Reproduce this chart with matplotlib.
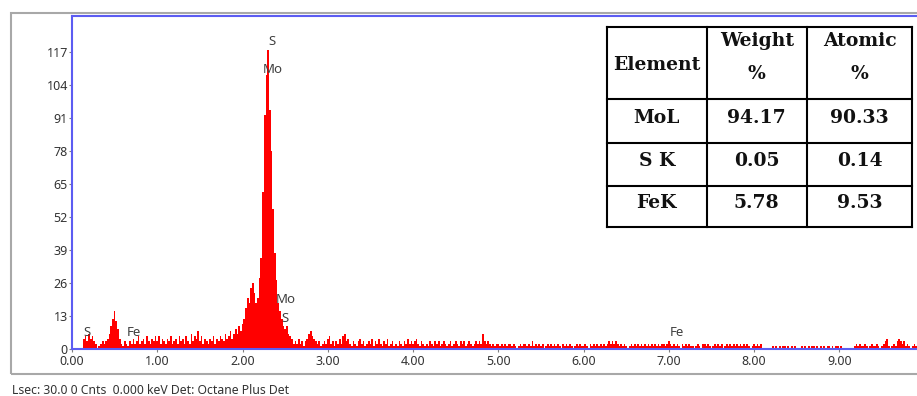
import numpy as np
import matplotlib.pyplot as plt
from matplotlib.patches import Rectangle

# EDS spectrum: counts per 0.02 keV channel starting at 0.00 keV
channel_kev = 0.02
counts = [
    # 0.00 - 0.98 keV
    0, 0, 0, 0, 0, 0, 0, 4, 5, 3, 6, 4, 5, 3, 2, 0, 1, 2, 3, 2, 3, 4, 6, 9, 12,
    15, 11, 8, 4, 2, 1, 3, 2, 1, 3, 2, 4, 2, 3, 5, 2, 3, 4, 2, 5, 3, 2, 4, 3, 5,
    # 1.00 - 1.98 keV
    3, 5, 2, 4, 3, 2, 4, 3, 5, 2, 3, 4, 2, 5, 3, 4, 2, 5, 3, 2, 6, 3, 5, 4, 7,
    3, 5, 2, 4, 3, 2, 4, 3, 5, 2, 4, 3, 5, 4, 3, 6, 4, 5, 7, 4, 6, 8, 6, 9, 7,
    # 2.00 - 2.98 keV
    10, 12, 16, 20, 18, 24, 26, 22, 18, 20, 28, 36, 62, 92, 108, 118, 94, 78, 55, 38,
    27, 18, 15, 12, 9, 8, 9, 6, 5, 4, 2, 3, 2, 4, 2, 3, 1, 3, 4, 6,
    7, 5, 4, 3, 2, 3, 1, 2, 3, 2,
    # 3.00 - 3.98 keV
    4, 5, 2, 3, 1, 3, 2, 4, 2, 5, 6, 3, 4, 2, 1, 3, 2, 1, 3, 4, 2, 3, 1, 2, 3,
    2, 4, 1, 3, 2, 4, 2, 1, 3, 2, 4, 1, 2, 3, 1, 2, 1, 3, 2, 1, 3, 2, 4, 2, 3,
    # 4.00 - 4.98 keV
    2, 3, 4, 2, 1, 3, 2, 1, 2, 1, 3, 2, 1, 3, 2, 3, 1, 2, 3, 2, 1, 2, 3, 1, 2,
    3, 2, 1, 3, 2, 3, 1, 2, 3, 2, 1, 2, 3, 2, 3, 2, 6, 3, 2, 3, 2, 1, 2, 1, 2,
    # 5.00 - 5.98 keV
    2, 1, 2, 1, 2, 1, 2, 2, 1, 2, 1, 0, 1, 2, 1, 2, 2, 1, 2, 1, 3, 1, 2, 1, 2,
    1, 2, 0, 1, 2, 1, 2, 1, 2, 1, 2, 1, 0, 2, 1, 2, 1, 2, 1, 0, 1, 2, 1, 2, 1,
    # 6.00 - 6.98 keV
    1, 2, 1, 0, 2, 1, 2, 1, 2, 1, 2, 1, 2, 1, 2, 3, 2, 3, 2, 3, 2, 1, 2, 1, 2,
    1, 0, 1, 2, 1, 2, 1, 2, 1, 2, 1, 2, 1, 2, 1, 2, 1, 2, 1, 2, 1, 2, 2, 1, 2,
    # 7.00 - 7.98 keV
    3, 2, 1, 2, 1, 2, 1, 0, 2, 1, 2, 1, 2, 1, 1, 0, 1, 2, 1, 0, 2, 2, 1, 2, 1,
    0, 1, 2, 1, 2, 1, 2, 0, 1, 2, 1, 2, 1, 2, 1, 2, 1, 2, 1, 2, 1, 2, 1, 0, 1,
    # 8.00 - 8.98 keV
    2, 1, 2, 1, 2, 0, 0, 0, 0, 0, 0, 1, 0, 1, 0, 1, 0, 1, 1, 0, 1, 0, 1, 0, 1,
    0, 0, 0, 1, 0, 1, 0, 1, 0, 1, 1, 0, 1, 0, 1, 0, 1, 0, 1, 1, 0, 1, 0, 1, 1,
    # 9.00 - 9.90 keV
    0, 1, 0, 0, 0, 0, 0, 0, 0, 1, 2, 1, 2, 1, 1, 2, 1, 0, 1, 2, 1, 1, 2, 1, 0,
    1, 2, 3, 4, 1, 0, 1, 2, 1, 3, 4, 3, 2, 3, 1, 2, 1, 0, 1, 2, 1,
]

# element line markers (keV, counts)
line_names = ["S", "Mo", "Mo", "S", "S", "Fe", "Fe"]
line_kev = [2.34, 2.36, 2.51, 2.50, 0.18, 0.72, 7.09]
line_cnt = [121, 110, 19.5, 12, 6.5, 6.5, 6.5]

# quantification table
table_elements = ["MoL", "S K", "FeK"]
weight_pct = ["94.17", "0.05", "5.78"]
atomic_pct = ["90.33", "0.14", "9.53"]

W, H = 917, 396
fig = plt.figure(figsize=(W / 100, H / 100), dpi=100)


def fx(px):
    return px / W


def fy(py):
    return 1 - py / H


# grey panel frame
fig.patches.append(Rectangle((fx(11), fy(374)), 1.2, fy(13) - fy(374),
                             transform=fig.transFigure, fill=False,
                             ec='#a8a8a8', lw=1.5))

blue = '#5c5cf2'
ax = fig.add_axes([fx(72), fy(349), fx(917) - fx(72), fy(16) - fy(349)])
energy = np.arange(len(counts)) * channel_kev
ax.bar(energy, counts, width=channel_kev, color='#ff0000', linewidth=0)
ax.set_xlim(0, 9.91)
ax.set_ylim(0, 131.2)
ax.set_yticks(np.arange(0, 118, 13))
ax.set_xticks(np.arange(0, 10))
ax.set_xticklabels([f'{v:.2f}' for v in range(10)])
for side in ['left', 'top', 'bottom']:
    ax.spines[side].set_color(blue)
    ax.spines[side].set_linewidth(1.5)
ax.spines['right'].set_visible(False)
ax.tick_params(axis='both', direction='out', length=2.5, width=0.8,
               color='#808080', labelcolor='#333333', labelsize=9)
ax.tick_params(axis='y', pad=0.5)
ax.tick_params(axis='x', pad=2)
for lab in ax.get_xticklabels() + ax.get_yticklabels():
    lab.set_family('Noto Sans')

for name, xk, yc in zip(line_names, line_kev, line_cnt):
    ax.text(xk, yc, name, ha='center', va='center', fontsize=9.5,
            family='Noto Sans', color='#404040')

fig.text(fx(12), fy(390), 'Lsec: 30.0 0 Cnts  0.000 keV Det: Octane Plus Det',
         ha='left', va='center', fontsize=8.8, family='Noto Sans',
         color='#333333')

# table drawn in its own pixel-space axes
tax = fig.add_axes([fx(607), fy(228), fx(913) - fx(607), fy(27) - fy(228)])
tax.set_xlim(0, 306)
tax.set_ylim(201, 0)
tax.axis('off')
col_edges = [0, 99.5, 200, 305]
row_edges = [0, 72, 115.5, 158.5, 200]
for xe in col_edges:
    tax.plot([xe, xe], [row_edges[0], row_edges[-1]], color='black',
             lw=1.5, solid_capstyle='projecting', clip_on=False)
for ye in row_edges:
    tax.plot([col_edges[0], col_edges[-1]], [ye, ye], color='black',
             lw=1.5, solid_capstyle='projecting', clip_on=False)

tfont = dict(family='DejaVu Serif', weight='bold', fontsize=13.5,
             ha='center', va='center', color='#111111')
col_mid = [(col_edges[i] + col_edges[i + 1]) / 2 for i in range(3)]
tax.text(col_mid[0], 38, 'Element', **tfont)
tax.text(col_mid[1], 14, 'Weight', **tfont)
tax.text(col_mid[1], 47, '%', **tfont)
tax.text(col_mid[2], 14, 'Atomic', **tfont)
tax.text(col_mid[2], 47, '%', **tfont)
for i, (el, wt, at) in enumerate(zip(table_elements, weight_pct, atomic_pct)):
    yc = (row_edges[i + 1] + row_edges[i + 2]) / 2 - 3
    tax.text(col_mid[0], yc, el, **tfont)
    tax.text(col_mid[1], yc, wt, **tfont)
    tax.text(col_mid[2], yc, at, **tfont)

fig.savefig('out.png', dpi=100)
